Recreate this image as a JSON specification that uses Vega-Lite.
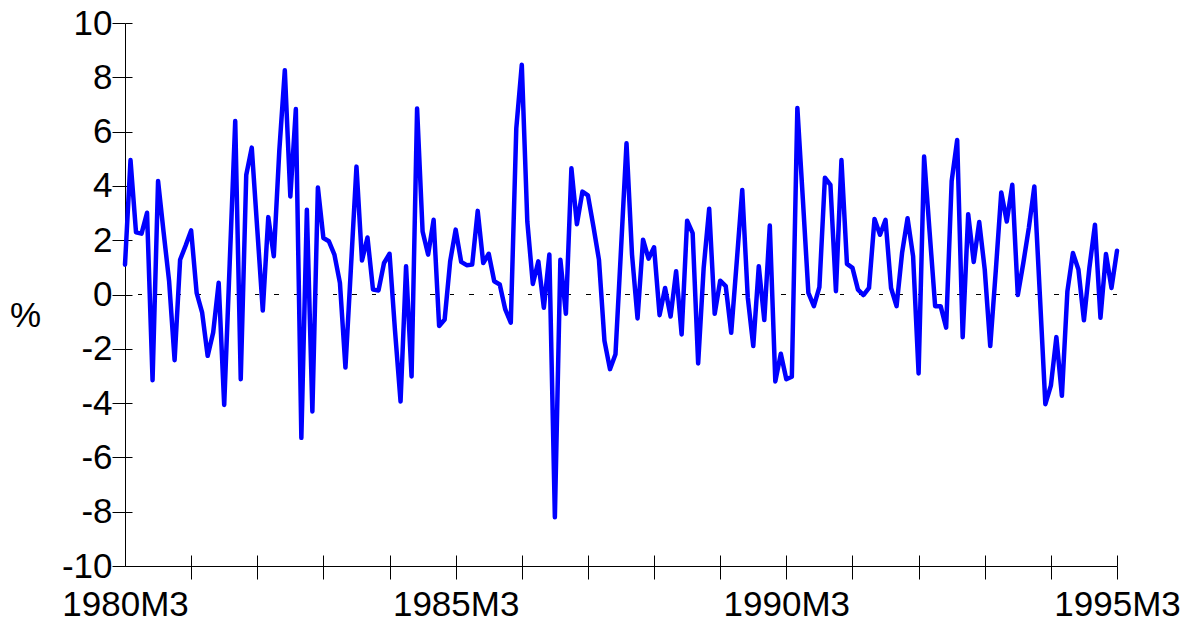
{
  "$schema": "https://vega.github.io/schema/vega-lite/v6.json",
  "width": 992,
  "height": 543,
  "autosize": {"type": "none"},
  "padding": {"left": 125, "top": 23, "right": 82, "bottom": 60},
  "background": "white",
  "config": {
    "font": "Liberation Sans",
    "view": {"stroke": null},
    "axis": {
      "grid": false,
      "domainColor": "#000000",
      "domainWidth": 1,
      "tickColor": "#000000",
      "tickWidth": 1,
      "labelColor": "#000000",
      "labelFont": "Liberation Sans",
      "labelFontSize": 35,
      "labelFlush": false,
      "labelBound": false,
      "labelOverlap": false,
      "titleFont": "Liberation Sans",
      "titleColor": "#000000"
    }
  },
  "data": {
    "values": [
      {"t":0,"v":1.1},{"t":1,"v":4.95},{"t":2,"v":2.29},{"t":3,"v":2.24},{"t":4,"v":3.01},{"t":5,"v":-3.16},{"t":6,"v":4.18},{"t":7,"v":2.3},{"t":8,"v":0.5},{"t":9,"v":-2.42},
      {"t":10,"v":1.28},{"t":11,"v":1.8},{"t":12,"v":2.36},{"t":13,"v":0.06},{"t":14,"v":-0.67},{"t":15,"v":-2.26},{"t":16,"v":-1.4},{"t":17,"v":0.43},{"t":18,"v":-4.07},{"t":19,"v":1.16},
      {"t":20,"v":6.39},{"t":21,"v":-3.12},{"t":22,"v":4.4},{"t":23,"v":5.41},{"t":24,"v":2.41},{"t":25,"v":-0.59},{"t":26,"v":2.85},{"t":27,"v":1.41},{"t":28,"v":5.3},{"t":29,"v":8.26},
      {"t":30,"v":3.61},{"t":31,"v":6.83},{"t":32,"v":-5.28},{"t":33,"v":3.12},{"t":34,"v":-4.31},{"t":35,"v":3.94},{"t":36,"v":2.08},{"t":37,"v":1.96},{"t":38,"v":1.47},{"t":39,"v":0.43},
      {"t":40,"v":-2.69},{"t":41,"v":1.0},{"t":42,"v":4.71},{"t":43,"v":1.25},{"t":44,"v":2.1},{"t":45,"v":0.18},{"t":46,"v":0.15},{"t":47,"v":1.16},{"t":48,"v":1.5},{"t":49,"v":-1.35},
      {"t":50,"v":-3.94},{"t":51,"v":1.04},{"t":52,"v":-3.02},{"t":53,"v":6.85},{"t":54,"v":2.32},{"t":55,"v":1.47},{"t":56,"v":2.75},{"t":57,"v":-1.16},{"t":58,"v":-0.92},{"t":59,"v":1.22},
      {"t":60,"v":2.39},{"t":61,"v":1.2},{"t":62,"v":1.08},{"t":63,"v":1.1},{"t":64,"v":3.08},{"t":65,"v":1.16},{"t":66,"v":1.5},{"t":67,"v":0.49},{"t":68,"v":0.37},{"t":69,"v":-0.55},
      {"t":70,"v":-1.04},{"t":71,"v":6.12},{"t":72,"v":8.46},{"t":73,"v":2.69},{"t":74,"v":0.39},{"t":75,"v":1.22},{"t":76,"v":-0.49},{"t":77,"v":1.47},{"t":78,"v":-8.2},{"t":79,"v":1.28},
      {"t":80,"v":-0.71},{"t":81,"v":4.65},{"t":82,"v":2.59},{"t":83,"v":3.79},{"t":84,"v":3.65},{"t":85,"v":2.5},{"t":86,"v":1.28},{"t":87,"v":-1.71},{"t":88,"v":-2.75},{"t":89,"v":-2.2},
      {"t":90,"v":1.65},{"t":91,"v":5.57},{"t":92,"v":1.47},{"t":93,"v":-0.88},{"t":94,"v":2.02},{"t":95,"v":1.32},{"t":96,"v":1.74},{"t":97,"v":-0.76},{"t":98,"v":0.24},{"t":99,"v":-0.81},
      {"t":100,"v":0.86},{"t":101,"v":-1.47},{"t":102,"v":2.72},{"t":103,"v":2.26},{"t":104,"v":-2.54},{"t":105,"v":0.98},{"t":106,"v":3.16},{"t":107,"v":-0.71},{"t":108,"v":0.51},{"t":109,"v":0.31},
      {"t":110,"v":-1.41},{"t":111,"v":1.2},{"t":112,"v":3.85},{"t":113,"v":-0.1},{"t":114,"v":-1.9},{"t":115,"v":1.04},{"t":116,"v":-0.94},{"t":117,"v":2.54},{"t":118,"v":-3.2},{"t":119,"v":-2.18},
      {"t":120,"v":-3.12},{"t":121,"v":-3.03},{"t":122,"v":6.87},{"t":123,"v":3.5},{"t":124,"v":0.06},{"t":125,"v":-0.43},{"t":126,"v":0.27},{"t":127,"v":4.3},{"t":128,"v":4.04},{"t":129,"v":0.12},
      {"t":130,"v":4.95},{"t":131,"v":1.13},{"t":132,"v":0.98},{"t":133,"v":0.18},{"t":134,"v":-0.02},{"t":135,"v":0.24},{"t":136,"v":2.78},{"t":137,"v":2.2},{"t":138,"v":2.75},{"t":139,"v":0.24},
      {"t":140,"v":-0.43},{"t":141,"v":1.53},{"t":142,"v":2.81},{"t":143,"v":1.41},{"t":144,"v":-2.91},{"t":145,"v":5.08},{"t":146,"v":2.3},{"t":147,"v":-0.43},{"t":148,"v":-0.43},{"t":149,"v":-1.22},
      {"t":150,"v":4.18},{"t":151,"v":5.69},{"t":152,"v":-1.57},{"t":153,"v":2.96},{"t":154,"v":1.2},{"t":155,"v":2.67},{"t":156,"v":0.92},{"t":157,"v":-1.9},{"t":158,"v":0.86},{"t":159,"v":3.76},
      {"t":160,"v":2.69},{"t":161,"v":4.04},{"t":162,"v":-0.02},{"t":163,"v":1.16},{"t":164,"v":2.45},{"t":165,"v":3.98},{"t":166,"v":0.0},{"t":167,"v":-4.04},{"t":168,"v":-3.36},{"t":169,"v":-1.57},
      {"t":170,"v":-3.73},{"t":171,"v":0.12},{"t":172,"v":1.53},{"t":173,"v":0.92},{"t":174,"v":-0.95},{"t":175,"v":1.0},{"t":176,"v":2.57},{"t":177,"v":-0.86},{"t":178,"v":1.49},{"t":179,"v":0.24},
      {"t":180,"v":1.61}
    ]
  },
  "layer": [
    {
      "mark": {"type": "rule", "color": "#000000", "strokeWidth": 1, "strokeDash": [4, 15.5]},
      "encoding": {
        "y": {
          "datum": 0,
          "type": "quantitative",
          "scale": {"domain": [-10, 10], "nice": false, "zero": false},
          "axis": {
            "orient": "right",
            "offset": -992,
            "values": [-10, -8, -6, -4, -2, 0, 2, 4, 6, 8, 10],
            "tickSize": 7,
            "labels": false,
            "domain": false,
            "title": null
          }
        }
      }
    },
    {
      "mark": {"type": "line", "color": "#0000ff", "strokeWidth": 4.5, "strokeJoin": "round", "strokeCap": "round"},
      "encoding": {
        "x": {
          "field": "t",
          "type": "quantitative",
          "scale": {"domain": [0, 180], "nice": false, "zero": false},
          "axis": {
            "orient": "bottom",
            "values": [0, 12, 24, 36, 48, 60, 72, 84, 96, 108, 120, 132, 144, 156, 168, 180],
            "tickSize": 13,
            "tickOpacity": {"condition": {"test": "datum.value == 0", "value": 0}, "value": 1},
            "labelPadding": 8,
            "labelExpr": "datum.value % 60 == 0 ? (1980 + datum.value / 12) + 'M3' : ''",
            "title": null
          }
        },
        "y": {
          "field": "v",
          "type": "quantitative",
          "scale": {"domain": [-10, 10], "nice": false, "zero": false},
          "axis": {
            "orient": "left",
            "values": [-10, -8, -6, -4, -2, 0, 2, 4, 6, 8, 10],
            "tickSize": 13,
            "labelPadding": 0,
            "labelExpr": "'' + datum.value",
            "title": "%",
            "titleAngle": 0,
            "titleFontSize": 35,
            "titleFontWeight": "normal",
            "titleX": -100,
            "titleY": 292,
            "titleAlign": "center",
            "titleBaseline": "middle"
          }
        }
      }
    },
    {
      "mark": {"type": "point", "opacity": 0},
      "encoding": {
        "x": {
          "field": "t",
          "type": "quantitative",
          "scale": {"domain": [0, 180], "nice": false, "zero": false},
          "axis": {
            "orient": "top",
            "offset": -543,
            "values": [12, 24, 36, 48, 60, 72, 84, 96, 108, 120, 132, 144, 156, 168, 180],
            "tickSize": 11,
            "labels": false,
            "domain": false,
            "title": null
          }
        },
        "y": {
          "field": "v",
          "type": "quantitative",
          "scale": {"domain": [-10, 10], "nice": false, "zero": false},
          "axis": null
        }
      }
    }
  ],
  "resolve": {"axis": {"x": "independent", "y": "independent"}}
}
